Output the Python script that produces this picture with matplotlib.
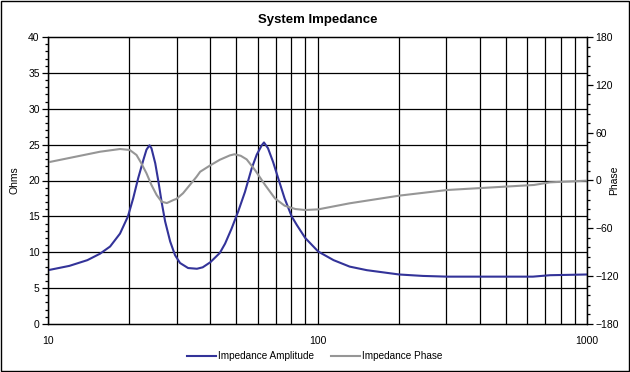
import matplotlib
matplotlib.use('Agg')
import matplotlib.pyplot as plt
from matplotlib.patches import Rectangle
from matplotlib.ticker import FixedLocator, NullLocator

plt.rcParams['font.family'] = ['Liberation Sans', 'DejaVu Sans']

# impedance amplitude (Ohms)
amp_freq = [10, 12, 14, 15.6, 17, 18.5, 19.8, 20.7, 21.6, 22.6, 23.2, 23.8, 24.2, 25.0,
            25.7, 26.4, 27.2, 28.4, 29.6, 30.9, 33.1, 35.7, 37.5, 40, 43.4, 45.4, 48,
            50.8, 53.8, 57, 59.5, 62.1, 63.3, 65.5, 68.4, 71.5, 75.5, 80.2, 83.8, 90,
            100.6, 114.7, 131.6, 152.5, 201, 246, 303, 450, 630, 729, 1000]
amp_ohms = [7.5, 8.1, 8.9, 9.8, 10.8, 12.6, 15.0, 17.5, 20.3, 22.9, 24.3, 24.9, 24.5, 22.4,
            19.8, 17.0, 14.3, 11.5, 9.6, 8.5, 7.8, 7.7, 7.9, 8.6, 9.9, 11.2, 13.3,
            15.7, 18.4, 21.7, 23.6, 24.9, 25.3, 24.5, 22.6, 20.3, 17.5, 15.0, 13.8, 12.0,
            10.1, 8.9, 8.0, 7.5, 6.9, 6.7, 6.6, 6.6, 6.6, 6.8, 6.9]

# impedance phase (degrees)
ph_freq = [10, 15.6, 18.5, 20.1, 21.3, 22.2, 23.2, 24.2, 25.3, 26.4, 27.6, 29.2, 30,
           31.7, 33.6, 35.6, 36.7, 40, 43.4, 47.3, 49.2, 51.9, 54.6, 58.6, 63.9, 69.5,
           75.5, 82.8, 89.9, 100.6, 131.6, 201, 303, 636, 729, 1000]
ph_deg = [22.8, 36.1, 39.5, 38.3, 32, 21.6, 9, -5.6, -18.2, -26.6, -28.3, -24.5, -23,
          -16, -5.6, 4.8, 11, 19, 26, 31.5, 32.9, 31, 26.5, 13.2, -5.6, -22.4,
          -31.6, -35.8, -37, -36.2, -28.6, -19, -11.9, -5.6, -2.3, -0.2]

fig = plt.figure(figsize=(6.3, 3.72), dpi=100)
ax = fig.add_axes([48 / 630, 48 / 372, 539 / 630, 287 / 372])
ax2 = ax.twinx()

l1, = ax.plot(amp_freq, amp_ohms, color='#333399', lw=1.5, label='Impedance Amplitude')
l2, = ax2.plot(ph_freq, ph_deg, color='#969696', lw=1.5, label='Impedance Phase')

ax.set_xscale('log')
ax.set_xlim(10, 1000)
ax.set_ylim(0, 40)
ax2.set_ylim(-180, 180)

# grid
xgrid = [v * d for d in (10, 100) for v in range(1, 10)] + [1000]
for xv in xgrid:
    ax.axvline(xv, color='black', lw=0.9, zorder=0.5)
for yv in range(5, 40, 5):
    ax.axhline(yv, color='black', lw=0.9, zorder=0.5)

ax.xaxis.set_major_locator(FixedLocator([10, 100, 1000]))
ax.xaxis.set_minor_locator(NullLocator())
ax.set_xticklabels(['10', '100', '1000'])
ax.tick_params(axis='x', length=0, pad=9, labelsize=7.5)

ax.set_yticks(range(0, 41, 5))
ax.set_yticks(range(0, 41, 1), minor=True)
ax.tick_params(axis='y', which='major', length=4, width=0.9, pad=2, labelsize=7.5)
ax.tick_params(axis='y', which='minor', length=2, width=0.9)

ax2.set_yticks(range(-180, 181, 60))
ax2.set_yticks(range(-180, 181, 12), minor=True)
ax2.tick_params(axis='y', which='major', length=4, width=0.9, pad=2, labelsize=7.5)
ax2.tick_params(axis='y', which='minor', length=2, width=0.9)

for a in (ax, ax2):
    for s in a.spines.values():
        s.set_linewidth(0.9)

ax.set_ylabel('Ohms', fontsize=7.5, labelpad=6)
fig.text(614 / 630, 192 / 372, 'Phase', rotation=90, fontsize=7.5,
         ha='center', va='center')
ax.set_title('System Impedance', fontsize=9.5, fontweight='bold', pad=10)

fig.legend(handles=[l1, l2], loc='center', bbox_to_anchor=(0.5, 16 / 372), ncol=2,
           frameon=False, fontsize=7.2, handlelength=2.9, handletextpad=0.2,
           columnspacing=1.7)

fig.patches.append(Rectangle((0.001, 0.002), 0.997, 0.995, transform=fig.transFigure,
                             fill=False, edgecolor='black', lw=1))

fig.savefig('out.png', dpi=100, facecolor='white')
